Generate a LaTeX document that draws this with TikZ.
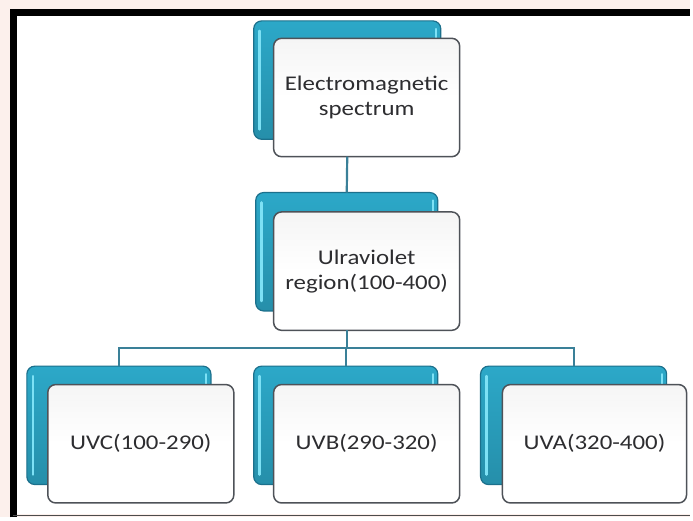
\documentclass[tikz,border=0pt]{standalone}
\usepackage{fontspec}
\setmainfont{Carlito}[FakeStretch=1.19]
\definecolor{tealmain}{RGB}{44,168,200}
\definecolor{tealdark}{RGB}{28,112,140}
\definecolor{teallight}{RGB}{125,225,245}
\definecolor{frontdraw}{RGB}{78,82,88}
\definecolor{linecol}{RGB}{58,128,152}
\definecolor{txt}{RGB}{45,45,48}
\definecolor{bgtint}{RGB}{252,240,236}
\begin{document}
\begin{tikzpicture}[x=1pt,y=-1pt,
  backbox/.style={rounded corners=8pt, draw=tealdark, line width=1.2pt,
    top color=tealmain, bottom color=tealmain!85!black,
    minimum width=#1, minimum height=119pt, inner sep=0pt, outer sep=0pt,
    path picture={\draw[teallight, line width=2.5pt, line cap=round]
      ([shift={(6pt,-10pt)}]path picture bounding box.north west) --
      ([shift={(6pt,10pt)}]path picture bounding box.south west);
      \draw[teallight, line width=2pt, line cap=round]
      ([shift={(-5pt,-8pt)}]path picture bounding box.north east) --
      ([shift={(-5pt,-40pt)}]path picture bounding box.north east);}},
  frontbox/.style={rounded corners=8pt, draw=frontdraw, line width=1.5pt,
    top color=black!4, bottom color=white, middle color=white,
    minimum width=#1, minimum height=119pt, inner sep=0pt, outer sep=0pt,
    font=\fontsize{21}{25}\selectfont, text=txt, align=center},
  conn/.style={draw=linecol, line width=2.2pt}]
% background and frame
\fill[bgtint] (0,0) rectangle (693,520);
\fill[white] (17,16) rectangle (693,517);
\draw[black, line width=7pt] (13.5,520) -- (13.5,12.5) -- (693,12.5);
\draw[black!70, line width=1.5pt] (13,518) -- (693,518);
% boxes
\node[backbox=188pt] (topback) at (349,80.5) {};
\node[frontbox=187pt] (top) at (368.5,98) {Electromagnetic\\spectrum};
\node[backbox=183pt] (midback) at (348.5,253) {};
\node[frontbox=187pt] (mid) at (368.5,272.5) {Ulraviolet\\region(100-400)};
\node[backbox=185pt] (uvcback) at (119.5,427.5) {};
\node[frontbox=187pt] (uvc) at (141.5,446) {UVC(100-290)};
\node[backbox=185pt] (uvbback) at (347.5,427.5) {};
\node[frontbox=187pt] (uvb) at (368.5,446) {UVB(290-320)};
\node[backbox=187pt] (uvaback) at (576.5,427.5) {};
\node[frontbox=185pt] (uva) at (597.5,446) {UVA(320-400)};
% connectors
\coordinate (bus) at (348.5,350);
\path[conn] (top.south -| topback) -- (midback.north);
\path[conn] (mid.south -| midback) -- (bus);
\path[conn] (uvcback.north) |- (bus) -| (uvaback.north);
\path[conn] (bus -| uvbback) -- (uvbback.north);
\end{tikzpicture}
\end{document}
